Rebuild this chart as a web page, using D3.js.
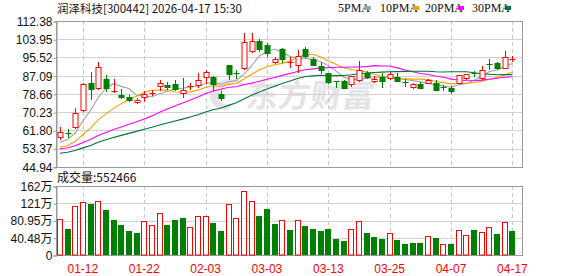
<!DOCTYPE html>
<html>
<head>
<meta charset="utf-8">
<script src="https://cdn.jsdelivr.net/npm/d3@7"></script>
<style>
body { margin: 0; background: #fff; }
svg { display: block; }
</style>
</head>
<body>
<div id="chart"></div>
<script>
// ---- data ----
var stockTitle = "润泽科技[300442] 2026-04-17 15:30";
var volumeTitle = "成交量:552466";

// closes before the visible window (only used for the moving averages)
var priorClose = [45.5, 46.0, 46.8, 47.5, 46.9, 47.3, 48.0, 47.6, 48.2, 48.2,
                  49.5, 51.0, 52.8, 53.5, 54.2, 53.6, 52.9, 52.5, 52.0, 52.4,
                  51.8, 51.2, 50.9, 51.6, 52.5, 53.8, 54.6, 55.5, 56.5];

var openP  = [58.94, 60.4, 63.28, 71.27, 83.88, 81.29, 85.45, 79.9, 78.34, 77.27,
              75.1, 77.27, 78.8, 82.5, 82.67, 83.28, 79.26, 81.8, 82.67, 86.36,
              86.36, 78.66, 92.05, 88.4, 90.53, 98.38, 103.28, 101.3, 93.58, 99.44,
              93.1, 92.05, 99.44, 94.7, 91.6, 88.5, 84.4, 84.66, 83.13, 85.13,
              88.5, 84.8, 86.36, 86.2, 86.65, 84.0, 82.03, 83.28, 83.88, 83.57,
              81.9, 81.57, 83.88, 86.2, 88.2, 85.9, 92.6, 92.82, 90.8, 94.6];
var highP  = [63.28, 62.35, 72.05, 83.5, 88.96, 93.58, 87.44, 85.45, 80.83, 78.2,
              76.95, 80.05, 80.5, 85.13, 84.06, 85.13, 85.9, 83.88, 88.2, 89.7,
              86.98, 80.2, 92.05, 89.74, 106.7, 106.7, 103.9, 102.4, 95.6, 99.76,
              95.6, 98.98, 100.5, 95.9, 93.3, 88.5, 84.4, 85.13, 86.98, 93.9,
              89.4, 86.98, 88.2, 88.67, 88.5, 85.45, 83.88, 84.35, 85.45, 85.13,
              82.67, 82.35, 87.3, 88.0, 89.28, 91.6, 94.7, 93.44, 98.5, 96.2];
var lowP   = [57.7, 58.66, 62.8, 70.94, 76.35, 81.0, 80.05, 79.7, 76.67, 75.4,
              74.5, 75.56, 78.2, 80.5, 80.97, 80.5, 77.13, 80.97, 82.03, 83.6,
              80.5, 75.89, 85.75, 85.9, 90.2, 97.92, 98.5, 96.35, 93.1, 93.58,
              91.2, 88.96, 95.6, 91.8, 88.2, 83.88, 82.03, 81.3, 82.5, 84.66,
              85.9, 84.2, 82.03, 85.45, 84.6, 82.35, 81.3, 81.3, 83.57, 80.5,
              80.5, 79.26, 83.57, 85.6, 86.98, 85.45, 90.2, 90.2, 90.53, 94.0];
var closeP = [61.1, 60.0, 69.74, 83.28, 80.97, 90.99, 81.57, 80.1, 77.13, 76.03,
              75.75, 78.66, 79.1, 83.88, 81.89, 81.12, 80.37, 82.2, 84.98, 88.67,
              83.13, 76.81, 87.75, 88.1, 102.54, 103.28, 99.3, 97.46, 94.6, 94.8,
              93.5, 96.35, 96.2, 92.05, 89.74, 84.35, 84.2, 81.57, 86.98, 89.74,
              86.65, 85.6, 84.66, 87.9, 84.8, 83.8, 83.13, 81.57, 84.98, 80.66,
              81.6, 80.05, 87.3, 88.0, 87.9, 89.74, 92.3, 90.8, 95.9, 94.8];
// volume in 万 (10k shares)
var volume = [83.8, 61, 114, 123.6, 119.7, 126, 105.6, 82, 70.4, 56.3,
              51.6, 79.8, 70.4, 98.6, 70.4, 82, 86.9, 65, 91.6, 91.6,
              75.9, 56.3, 119.7, 86.9, 150.3, 126, 91.6, 108, 72.8, 82,
              58.7, 82, 68.1, 61, 56.3, 61, 37.6, 32.9, 61, 79.8,
              51.6, 42.3, 37.6, 51.6, 35.2, 25.8, 28.2, 28.2, 44.6, 39.9,
              25.8, 25.8, 58.7, 47, 58.7, 54, 65.7, 49.3, 77.5, 55.2];

var dateTickIdx = [3, 11, 19, 27, 35, 43, 51, 59];
var dateTickLabels = ["01-12", "01-22", "02-03", "03-03", "03-13", "03-25", "04-07", "04-17"];

var priceTicks = [112.38, 103.95, 95.52, 87.09, 78.66, 70.23, 61.80, 53.37, 44.94];
var volTicks = [161.9, 121.43, 80.95, 40.48, 0];
var volTickLabels = ["162万", "121万", "80.95万", "40.48万", "0"];

var maPeriods = [5, 10, 20, 30];
var maNames = ["5PMA", "10PMA", "20PMA", "30PMA"];
var maColors = ["#a0a0a0", "#f5a200", "#ff00ff", "#00733a"];

// ---- layout ----
var W = 578, H = 276;
var left = 56, right = 522;
var pTop = 21, pBottom = 166.8;
var vTop = 186, vBottom = 255;
var upColor = "#ff0000", downColor = "#008000";

var svg = d3.select("#chart").append("svg")
    .attr("width", W).attr("height", H)
    .style("font-family", "'Liberation Sans', Arial, sans-serif");

var x = d3.scaleLinear().domain([-0.5, 60.25]).range([left, right]);
var y = d3.scaleLinear().domain([44.94, 112.38]).range([pBottom, pTop]);
var yv = d3.scaleLinear().domain([0, 161.9]).range([vBottom, vTop]);

function px(v) { return Math.round(v) + 0.5; }

// watermark
var wm = svg.append("g").attr("fill", "#e4e4e8");
wm.append("path")
    .attr("d", "M214,84 C226,76 244,78 246,88 C240,82 226,82 220,92 C216,100 222,106 232,104 L228,110 C212,110 204,96 214,84 Z");
wm.append("text")
    .attr("x", 246).attr("y", 107)
    .attr("font-size", 32).attr("font-weight", "bold")
    .attr("font-family", "'Noto Sans CJK SC', sans-serif")
    .attr("transform", "skewX(-8) translate(14,0)")
    .text("东方财富");

// grids
function drawGrid(top, bottom, ticks, scale) {
    var g = svg.append("g");
    g.selectAll(".h").data(ticks).enter().append("line")
        .attr("x1", left).attr("x2", right)
        .attr("y1", function(d) { return px(scale(d)); })
        .attr("y2", function(d) { return px(scale(d)); })
        .attr("stroke", "#d2d2d2");
    g.selectAll(".v").data(dateTickIdx).enter().append("line")
        .attr("x1", function(d) { return px(x(d)); })
        .attr("x2", function(d) { return px(x(d)); })
        .attr("y1", top).attr("y2", bottom)
        .attr("stroke", "#c8c8c8").attr("stroke-dasharray", "4,3");
    g.append("rect")
        .attr("x", left + 0.5).attr("y", px(top))
        .attr("width", right - left).attr("height", Math.round(bottom - top))
        .attr("fill", "none").attr("stroke", "#999");
}
drawGrid(pTop, pBottom, priceTicks, y);
drawGrid(vTop, vBottom, volTicks, yv);

// axes
var yAxis = svg.append("g")
    .attr("transform", "translate(" + (left + 0.5) + ",0.5)")
    .call(d3.axisLeft(y).tickValues(priceTicks).tickSize(3).tickPadding(1)
        .tickFormat(function(d) { return d.toFixed(2); }));
var vAxis = svg.append("g")
    .attr("transform", "translate(" + (left + 0.5) + ",0.5)")
    .call(d3.axisLeft(yv).tickValues(volTicks).tickSize(3).tickPadding(1)
        .tickFormat(function(d, i) { return volTickLabels[i]; }));
[yAxis, vAxis].forEach(function(a) {
    a.select(".domain").attr("stroke", "#999");
    a.selectAll(".tick line").attr("stroke", "#999");
    a.selectAll("text").attr("fill", "#111").attr("font-size", 12)
        .attr("font-family", "'Liberation Sans', 'Noto Sans CJK SC', sans-serif");
});

svg.append("g").selectAll("text").data(dateTickIdx).enter().append("text")
    .attr("x", function(d) { return x(d); })
    .attr("y", 273)
    .attr("text-anchor", "middle")
    .attr("font-size", 12)
    .attr("fill", "#ff0000")
    .text(function(d, i) { return dateTickLabels[i]; });

// moving averages
var allClose = priorClose.concat(closeP);
function movingAvg(n) {
    return closeP.map(function(c, i) {
        var k = i + priorClose.length;
        return d3.mean(allClose.slice(k - n + 1, k + 1));
    });
}
var line = d3.line()
    .x(function(d, i) { return x(i); })
    .y(function(d) { return y(d); });
maPeriods.forEach(function(n, j) {
    svg.append("path")
        .datum(movingAvg(n))
        .attr("d", line)
        .attr("fill", "none")
        .attr("stroke", maColors[j])
        .attr("stroke-width", 1.1);
});

// candles
var candles = svg.append("g").selectAll("g").data(closeP).enter().append("g");
candles.each(function(c, i) {
    var g = d3.select(this);
    var o = openP[i], up = c >= o;
    var col = up ? upColor : downColor;
    var cx = px(x(i));
    g.append("line")
        .attr("x1", cx).attr("x2", cx)
        .attr("y1", Math.round(y(highP[i]))).attr("y2", Math.round(y(lowP[i])) + 1)
        .attr("stroke", col);
    var yt = Math.round(y(Math.max(o, c))), yb = Math.round(y(Math.min(o, c)));
    if (yb - yt < 2) {
        g.append("line")
            .attr("x1", cx - 3).attr("x2", cx + 3)
            .attr("y1", yt + 0.5).attr("y2", yt + 0.5)
            .attr("stroke", col);
    } else if (up) {
        g.append("rect")
            .attr("x", cx - 2.5).attr("y", yt + 0.5)
            .attr("width", 5).attr("height", yb - yt)
            .attr("fill", "#fff").attr("stroke", col);
    } else {
        g.append("rect")
            .attr("x", cx - 3).attr("y", yt)
            .attr("width", 6).attr("height", yb - yt + 1)
            .attr("fill", col);
    }
});

// volume bars (colour by change from previous close)
svg.append("g").selectAll("rect").data(volume).enter().append("rect")
    .each(function(v, i) {
        var prev = i === 0 ? priorClose[priorClose.length - 1] : closeP[i - 1];
        var up = closeP[i] >= prev;
        var cx = Math.round(x(i));
        var top = Math.round(yv(v));
        var r = d3.select(this);
        if (up) {
            r.attr("x", cx - 2.5).attr("y", top + 0.5)
                .attr("width", 5).attr("height", vBottom - top - 0.5)
                .attr("fill", "#fff").attr("stroke", upColor);
        } else {
            r.attr("x", cx - 3).attr("y", top)
                .attr("width", 6).attr("height", vBottom - top)
                .attr("fill", downColor);
        }
    });

// titles & legend
svg.append("text")
    .attr("x", 57).attr("y", 13)
    .attr("font-size", 11.5)
    .attr("font-family", "'Noto Sans CJK SC', sans-serif")
    .attr("fill", "#111")
    .text(stockTitle);
svg.append("text")
    .attr("x", 57).attr("y", 182)
    .attr("font-size", 12)
    .attr("font-family", "'Noto Sans CJK SC', sans-serif")
    .attr("fill", "#111")
    .text(volumeTitle);

var legendX = [338, 380, 425, 472];
var legend = svg.append("g").selectAll("g").data(maNames).enter().append("g")
    .attr("transform", function(d, i) { return "translate(" + legendX[i] + ",0)"; });
legend.append("text")
    .attr("y", 12)
    .attr("font-size", 12)
    .attr("font-family", "'Liberation Serif', serif")
    .attr("fill", "#111")
    .text(function(d) { return d; });
legend.append("rect")
    .attr("x", function(d) { return d.length * 6.2 + 2; })
    .attr("y", 6).attr("width", 6).attr("height", 4)
    .attr("fill", function(d, i) { return maColors[i]; });
</script>
</body>
</html>
